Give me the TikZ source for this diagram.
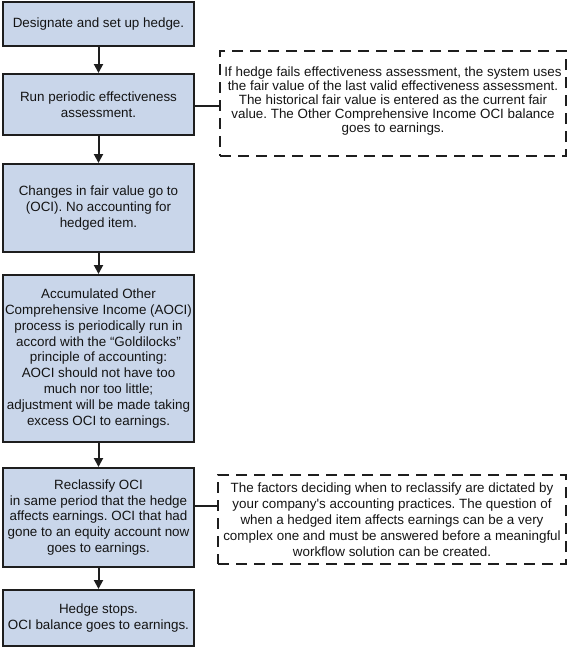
\documentclass[tikz,border=0pt]{standalone}
\usepackage{fontspec}
\setmainfont{Liberation Sans}[Ligatures=TeXOff]
\usetikzlibrary{arrows.meta,positioning,calc}
\definecolor{boxfill}{RGB}{201,214,234}
\definecolor{boxline}{RGB}{30,30,30}
\definecolor{txt}{RGB}{20,20,20}
\frenchspacing
\begin{document}
\begin{tikzpicture}[x=1pt,y=-1pt,
  stepbox/.style={draw=boxline, fill=boxfill, line width=2pt, minimum width=191pt,
    inner sep=0pt, align=center, text=txt, font=\fontsize{13.4pt}{15.8pt}\selectfont},
  notebox/.style={draw=boxline, line width=2pt, dash pattern=on 11pt off 7pt,
    inner sep=0pt, align=center, text=txt},
  flow/.style={draw=boxline, line width=2pt, -{Triangle[length=9pt,width=9pt]}},
  link/.style={draw=boxline, line width=1.5pt}]
\useasboundingbox (0,0) rectangle (569,648);

\node[stepbox, minimum height=44pt] (b1) at (98.5,24) {Designate and set up hedge.};
\node[stepbox, minimum height=61pt] (b2) at (98.5,104.5) {Run periodic effectiveness\\assessment.};
\node[stepbox, minimum height=88pt] (b3) at (98.5,208) {Changes in fair value go to\\(OCI). No accounting for\\hedged item.};
\node[stepbox, minimum height=167pt] (b4) at (98.5,358.5) {Accumulated Other\\Comprehensive Income (AOCI)\\process is periodically run in\\accord with the “Goldilocks”\\principle of accounting:\\AOCI should not have too\\much nor too little;\\adjustment will be made taking\\excess OCI to earnings.};
\node[stepbox, minimum height=99pt] (b5) at (98.5,517.5) {Reclassify OCI\\in same period that the hedge\\affects earnings. OCI that had\\gone to an equity account now\\goes to earnings.};
\node[stepbox, minimum height=56pt] (b6) at (98.5,618) {Hedge stops.\\OCI balance goes to earnings.};

\node[notebox, minimum width=346pt, minimum height=105pt] (d1) at (393,103.5) {};
\node[align=center, text=txt, inner sep=0pt, font=\fontsize{13.4pt}{14pt}\selectfont]
  (t1) at (393,101) {If hedge fails effectiveness assessment, the system uses\\the fair value of the last valid effectiveness assessment.\\The historical fair value is entered as the current fair\\value. The Other Comprehensive Income OCI balance\\goes to earnings.};

\node[notebox, minimum width=348pt, minimum height=89pt,
  font=\fontsize{13.4pt}{16pt}\selectfont] (d2) at (392,519.5) {The factors deciding when to reclassify are dictated by\\your company's accounting practices. The question of\\when a hedged item affects earnings can be a very\\complex one and must be answered before a meaningful\\workflow solution can be created.};

\draw[flow] (b1) -- (b2);
\draw[flow] (b2) -- (b3);
\draw[flow] (b3) -- (b4);
\draw[flow] (b4) -- (b5);
\draw[flow] (b5) -- (b6);

\coordinate (c2) at ([yshift=-1.5pt]b2.east);
\draw[link] (c2) -- (c2 -| d1.west);
\coordinate (c5) at ([yshift=11.5pt]b5.east);
\draw[link] (c5) -- (c5 -| d2.west);
\end{tikzpicture}
\end{document}
